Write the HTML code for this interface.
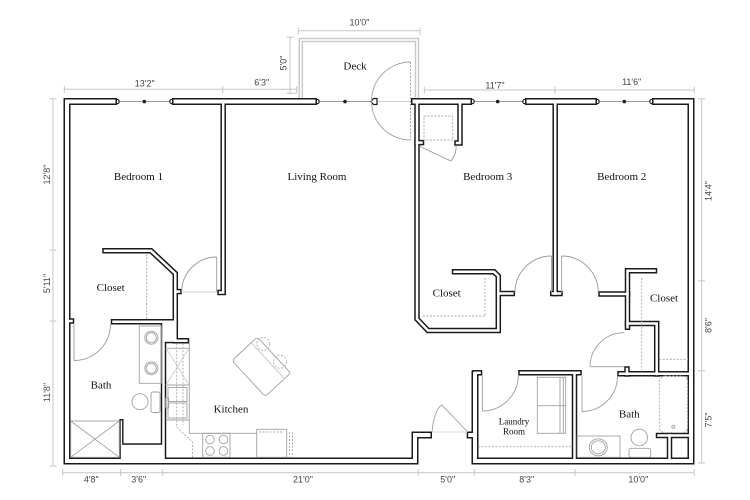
<!DOCTYPE html>
<html><head><meta charset="utf-8"><style>html,body{margin:0;padding:0;background:#fff}svg{display:block}</style></head>
<body>
<svg width="750" height="500" viewBox="0 0 750 500" xmlns="http://www.w3.org/2000/svg">
<rect width="750" height="500" fill="#fff"/>
<defs>
<g id="ext" fill="none" stroke-linecap="square" stroke-linejoin="miter">
<path d="M113.5,101.5 H67 V461 H415 V435 H428.5"/>
<path d="M175.5,101.5 H313.5"/>
<path d="M414.5,101.5 H468.5"/>
<path d="M528.5,101.5 H593.5"/>
<path d="M655.5,101.5 H691 V461 H475 V374.2"/>
<path d="M470.2,435 H475"/>
</g>
<g id="int" fill="none" stroke-linecap="square" stroke-linejoin="miter">
<path d="M223.2,101.5 V292.5 H220"/>
<path d="M105,250.8 H151 L175.3,273.5 V340.8 H186.5"/>
<path d="M175.3,291.6 H179"/>
<path d="M113.5,321.7 H175.3"/>
<path d="M163.5,321.7 V461"/>
<path d="M67,321 H71.5"/>
<path d="M417,101.5 V319 L428,330.5 H498.3 V276 L494,271.8 H454.5"/>
<path d="M460,101.5 V143 H457"/>
<path d="M417,142.6 H421.5"/>
<path d="M498.3,293.5 H512.3"/>
<path d="M555.2,101.5 V293.5"/>
<path d="M552.75,293.5 H560"/>
<path d="M601,294 H627.5"/>
<path d="M654.5,270.8 H627.5 V327.3"/>
<path d="M627.5,323.5 H656.7 V374"/>
<path d="M620,373.8 H691"/>
<path d="M627,369 V374"/>
<path d="M521,372.8 H579"/>
<path d="M574.5,372.8 V461"/>
<path d="M658.5,435.5 H691"/>
<path d="M669.5,435.5 V461"/>
<path d="M475,372.8 H479.5"/>
</g>
</defs>

<!-- deck rail -->
<path d="M300.8,99 V40 H417 V99" fill="none" stroke="#c9c9c9" stroke-width="4.5"/>
<path d="M300.8,99 V40 H417 V99" fill="none" stroke="#fff" stroke-width="1.6"/>

<!-- dimension lines -->
<g stroke="#c6c6c6" stroke-width="1" fill="none">
<path d="M64.3,89.3 H296.7 M64.3,86 V93 M222.7,86 V93 M296.7,86 V93"/>
<path d="M298.3,30.7 H420 M298.3,27.5 V35 M420,27.5 V35"/>
<path d="M290,37.3 V93.3 M286.5,37.3 H293.5 M286.5,93.3 H297"/>
<path d="M424.3,90 H694.3 M424.3,86.5 V93.5 M555,86.5 V93.5 M694.3,86.5 V93.5"/>
<path d="M53,98.7 V466 M49.5,98.7 H56.5 M49.5,250 H56.5 M49.5,321 H56.5 M49.5,466 H56.5"/>
<path d="M701.7,98.7 V463 M698,98.7 H705 M698,280.7 H705 M698,370.7 H705 M698,463 H705"/>
<path d="M62.7,472.7 H694.3 M62.7,469 V476 M120.7,469 V476 M162.7,469 V476 M418.3,469 V476 M474.3,469 V476 M575,469 V476 M694.3,469 V476"/>
</g>

<!-- windows -->
<g stroke="#9a9a9a" stroke-width="1">
<path d="M117,101.5 H172 M317,101.5 H374 M472,101.5 H525 M597,101.5 H652"/>
<path d="M377,101.5 H411" stroke="#cfcfcf"/>
</g>
<g fill="#222">
<circle cx="144.3" cy="101.6" r="1.8"/><circle cx="345" cy="101.6" r="1.8"/><circle cx="497.7" cy="101.6" r="1.8"/><circle cx="624.3" cy="101.6" r="1.8"/>
</g>

<!-- walls -->
<use href="#ext" stroke="#1a1a1a" stroke-width="7"/>
<use href="#int" stroke="#1a1a1a" stroke-width="5.5"/>
<rect x="161.3" y="319.3" width="16" height="24" fill="#1a1a1a"/>
<rect x="119.3" y="443.3" width="46.4" height="21" fill="#1a1a1a"/>
<rect x="119.3" y="419" width="4.2" height="26" fill="#1a1a1a"/>
<use href="#ext" stroke="#fff" stroke-width="4"/>
<use href="#int" stroke="#fff" stroke-width="2.5"/>
<rect x="162.8" y="320.8" width="13" height="21" fill="#fff"/>
<rect x="120.8" y="444.8" width="43.4" height="18" fill="#fff"/>
<rect x="120.7" y="420.4" width="1.4" height="26" fill="#fff"/>

<!-- wall end caps at windows -->
<g fill="#fff" stroke="#1a1a1a" stroke-width="1.2">
<path d="M117,99.3 A2.2,2.2 0 0 1 117,103.7"/>
<path d="M172,99.3 A2.2,2.2 0 0 0 172,103.7"/>
<path d="M317,99.3 A2.2,2.2 0 0 1 317,103.7"/>
<path d="M472,99.3 A2.2,2.2 0 0 1 472,103.7"/>
<path d="M525,99.3 A2.2,2.2 0 0 0 525,103.7"/>
<path d="M597,99.3 A2.2,2.2 0 0 1 597,103.7"/>
<path d="M652,99.3 A2.2,2.2 0 0 0 652,103.7"/>
<polygon points="371,101.5 373.5,98.5 377,98.5 377,104.5 373.5,104.5"/>
</g>

<!-- doors -->
<g fill="none" stroke="#9c9c9c" stroke-width="0.9">
<path d="M410.5,62 A39,39 0 0 0 410.5,140"/>
<path d="M410.5,62 V140" stroke-dasharray="2 1.5"/>
<path d="M216.7,257 V292 M216.7,257 A35,35 0 0 0 181.7,292"/>
<path d="M181.7,292 H216.7" stroke="#d0d0d0"/>
<path d="M74,324 V360.5 M74,360.5 A36.5,36.5 0 0 0 110.5,324"/>
<path d="M551.5,256 V292.5 M551.5,256 A36.5,36.5 0 0 0 515,292.5"/>
<path d="M561.7,256 V292.5 M561.7,256 A36.5,36.5 0 0 1 598.2,292.5"/>
<path d="M624,366.7 H590 M590,366.7 A34,34 0 0 1 624,332.7"/>
<path d="M482.3,375 V411 M482.3,411 A36,36 0 0 0 518.3,375"/>
<path d="M582,376 V411.5 M582,411.5 A35.5,35.5 0 0 0 617.5,376"/>
<path d="M432,432 Q434,410 441.7,405 L467.7,432"/>
<path d="M432,432 H467" stroke="#d8d8d8"/>
<path d="M420,146.5 L451,161 Q457,153 456,145.5"/>
</g>

<!-- dashed shelves -->
<g fill="none" stroke="#a8a8a8" stroke-width="0.9" stroke-dasharray="2 1.5">
<path d="M146.7,254 V319"/>
<rect x="424" y="116" width="28.7" height="24"/>
<path d="M423,316 H485 V277"/>
<path d="M641.7,278 V370"/>
<path d="M659.3,359.3 H688"/>
<path d="M478,446.7 H571.7"/>
<rect x="659.3" y="376" width="28.4" height="56.7" rx="6"/>
</g>

<!-- fixtures -->
<g fill="none" stroke="#a0a0a0" stroke-width="0.9">
<!-- bath 1 -->
<rect x="139.3" y="326" width="22" height="57.3"/>
<circle cx="151.3" cy="337.7" r="6.5"/><circle cx="151.3" cy="337.7" r="5"/>
<circle cx="151.3" cy="368.3" r="6.5"/><circle cx="151.3" cy="368.3" r="5"/>
<ellipse cx="140" cy="401.7" rx="8" ry="8"/>
<rect x="151" y="392" width="9" height="20.5" rx="2"/>
<rect x="70.7" y="421" width="48.6" height="36.3"/>
<path d="M70.7,421 L119.3,457.3 M119.3,421 L70.7,457.3"/>
<!-- kitchen -->
<path d="M189.3,343.3 V433.3 H256.7"/>
<path d="M165.7,348.3 H189.3 M165.7,385 H189.3 M165.7,420 H189.3"/>
<path d="M166,348.3 L189,385 M189,348.3 L166,385" stroke="#d0d0d0"/>
<rect x="168" y="387.5" width="19" height="14"/>
<rect x="168" y="403" width="19" height="15"/>
<rect x="165.7" y="398" width="3" height="10"/>
<rect x="202.7" y="433.3" width="27.3" height="24"/>
<circle cx="210" cy="439.5" r="4.3"/><circle cx="223.5" cy="439.5" r="4.3"/>
<circle cx="210" cy="451" r="4.3"/><circle cx="223.5" cy="451" r="4.3"/>
<rect x="256.7" y="429.3" width="30" height="28"/>
<g transform="translate(261.3,366.8) rotate(47.2)">
<rect x="-24.5" y="-17.25" width="49" height="34.5" rx="3"/>
<path d="M-24.5,-9 H24.5" stroke="#c4c4c4"/>
</g>
<!-- laundry -->
<rect x="537.3" y="377.3" width="28.4" height="56"/>
<path d="M537.3,405.7 H565.7 M560,377.3 V433.3 M563.3,377.3 V433.3"/>
<!-- bath 2 -->
<rect x="577.3" y="436" width="42.7" height="21.3"/>
<ellipse cx="598.3" cy="447.3" rx="9" ry="8.5"/>
<ellipse cx="598.3" cy="447.3" rx="7" ry="6.5"/>
<circle cx="639.3" cy="437.5" r="8.3"/>
<rect x="629" y="448.3" width="21.7" height="9" rx="2"/>
<circle cx="673.3" cy="426.7" r="1.5"/>
</g>
<g fill="none" stroke="#ababab" stroke-width="0.9" stroke-dasharray="2 1.5">
<path d="M176.7,343.3 V427 L192.5,442 V457.3"/>
<path d="M183,343.3 V425"/>
<path d="M259,432 H284"/>
<path d="M289.5,432 V457 M292.5,432 V457"/>
<circle cx="263.3" cy="344" r="6.5"/>
<circle cx="280" cy="361.7" r="6.5"/>
</g>

<!-- room labels -->
<g font-family="'Liberation Serif', serif" font-size="11" fill="#111" text-anchor="middle">
<text x="138.5" y="180">Bedroom 1</text>
<text x="317" y="180">Living Room</text>
<text x="487.7" y="180">Bedroom 3</text>
<text x="621.7" y="180">Bedroom 2</text>
<text x="355" y="69.3">Deck</text>
<text x="110.7" y="291">Closet</text>
<text x="446.7" y="296.7">Closet</text>
<text x="664" y="301.7">Closet</text>
<text x="101" y="388.3">Bath</text>
<text x="629.3" y="417.7">Bath</text>
<text x="231" y="412.3">Kitchen</text>
<text x="514" y="424.5" font-size="9">Laundry</text>
<text x="514" y="434.5" font-size="9">Room</text>
</g>

<!-- dimension labels -->
<g font-family="'Liberation Sans', sans-serif" font-size="9" fill="#444" text-anchor="middle">
<text x="144.7" y="86.5">13'2"</text>
<text x="261.7" y="85.5">6'3"</text>
<text x="359.5" y="25.5">10'0"</text>
<text x="495" y="88.3">11'7"</text>
<text x="631.7" y="85">11'6"</text>
<text transform="translate(286.7,63) rotate(-90)">5'0"</text>
<text transform="translate(50,174.5) rotate(-90)">12'8"</text>
<text transform="translate(50,283.5) rotate(-90)">5'11"</text>
<text transform="translate(50,392.5) rotate(-90)">11'8"</text>
<text transform="translate(711.3,191) rotate(-90)">14'4"</text>
<text transform="translate(711.3,325.5) rotate(-90)">8'6"</text>
<text transform="translate(711.3,420) rotate(-90)">7'5"</text>
<text x="91.3" y="482.5">4'8"</text>
<text x="138.7" y="482.5">3'6"</text>
<text x="303" y="482.5">21'0"</text>
<text x="447.7" y="482.5">5'0"</text>
<text x="526.7" y="482.5">8'3"</text>
<text x="638.3" y="482.5">10'0"</text>
</g>
</svg>
</body></html>
